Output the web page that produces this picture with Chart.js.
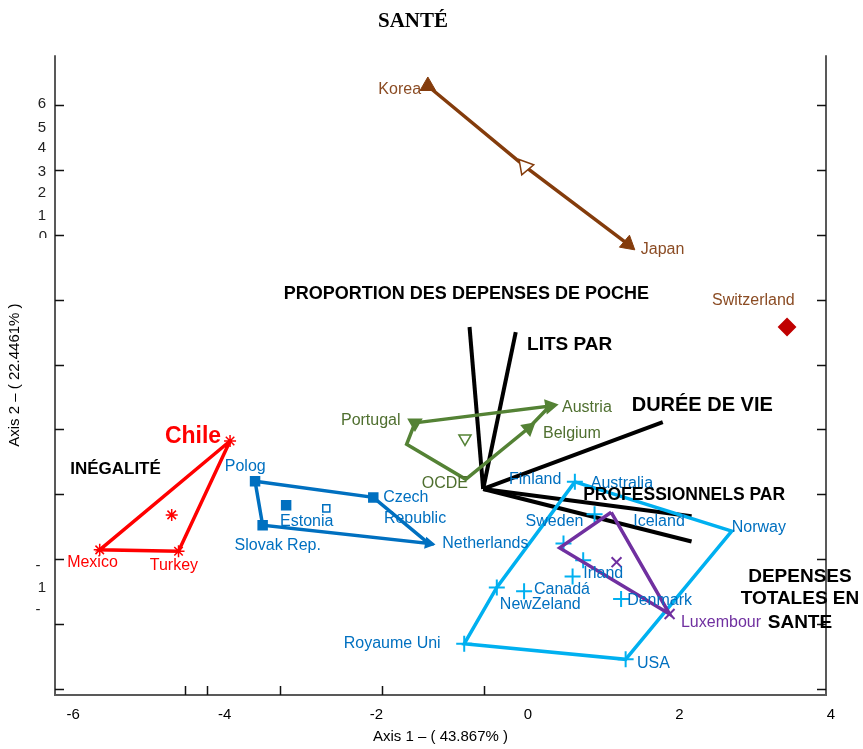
<!DOCTYPE html>
<html>
<head>
<meta charset="utf-8">
<script src="https://cdn.jsdelivr.net/npm/chart.js@4.4.0/dist/chart.umd.min.js"></script>
<style>
  html, body { margin: 0; padding: 0; background: #fff; }
  #wrap { width: 863px; height: 749px; }
</style>
</head>
<body>
<div id="wrap"><canvas id="biplot"></canvas></div>
<script>
// Axis ticks
const xTicks = [-6, -4, -2, 0, 2, 4];
const yTicks = [-3, -2, -1, 0, 1, 2, 3, 4, 5, 6];
const xMinorTicks = [-4.52, -4.23, -3.27, -1.93, -0.58];

// Korea -> Japan
const asiaX = [-1.32, -0.04, 1.32];
const asiaY = [6.30, 5.06, 3.86];

const swissX = [3.42];
const swissY = [2.58];

// green group: Portugal, Austria, Belgium, OCDE, corner
const greenX = [-1.49, 0.29, 0.01, -0.82, -1.60, -1.49];
const greenY = [1.10, 1.36, 1.02, 0.23, 0.77, 1.10];
const greenMarkX = [-1.49, 0.29, 0.01];
const greenMarkY = [1.10, 1.36, 1.02];
const greenMeanX = [-0.83];
const greenMeanY = [0.86];

// red group: Chile, Mexico, Turkey
const redX = [-3.93, -5.65, -4.61, -3.93];
const redY = [0.82, -0.86, -0.88, 0.82];
const redMeanX = [-4.70];
const redMeanY = [-0.32];

// blue group: Polog, Czech Rep., Netherlands, Slovak Rep.
const blueX = [-3.60, -2.04, -1.31, -3.50, -3.60];
const blueY = [0.20, -0.05, -0.76, -0.48, 0.20];
const blueMarkX = [-3.60, -2.04, -3.50, -3.19];
const blueMarkY = [0.20, -0.05, -0.48, -0.17];
const blueMeanX = [-2.66];
const blueMeanY = [-0.22];

// cyan group: Australia, Norway, USA, Royaume Uni, NewZeland corner
const cyanX = [0.62, 2.69, 1.29, -0.84, -0.41, 0.62];
const cyanY = [0.19, -0.57, -2.55, -2.31, -1.44, 0.19];
const cyanMarkX = [0.62, 1.29, -0.84, -0.41, 0.88, 0.47, 0.73, 0.59, -0.05, 1.23];
const cyanMarkY = [0.19, -2.55, -2.31, -1.44, -0.31, -0.76, -1.02, -1.27, -1.50, -1.62];

// purple group
const purpleX = [1.10, 1.87, 0.42, 1.10];
const purpleY = [-0.28, -1.85, -0.83, -0.28];
const purpleMarkX = [1.87, 1.17];
const purpleMarkY = [-1.85, -1.05];

// variable vectors
const vecOrigin = [-0.59, 0.08];
const vecEndX = [-0.77, -0.16, 1.78, 2.16, 2.16];
const vecEndY = [2.58, 2.50, 1.11, -0.34, -0.73];

const brown = '#843c0c', green = '#548235', red = '#ff0000',
      blue = '#0070c0', cyan = '#00b0f0', purple = '#7030a0';

// text annotations [text, x, y, colour, align]
const countryLabels = [
  ['Korea', -1.41, 6.25, '#8b4c24', 'right'],
  ['Japan', 1.49, 3.77, '#8b4c24', 'left'],
  ['Switzerland', 2.43, 2.99, '#8b4c24', 'left'],
  ['Portugal', -1.68, 1.13, '#4f6f2f', 'right'],
  ['Austria', 0.45, 1.33, '#4f6f2f', 'left'],
  ['Belgium', 0.20, 0.93, '#4f6f2f', 'left'],
  ['OCDE', -1.40, 0.17, '#4f6f2f', 'left'],
  ['Mexico', -6.08, -1.05, red, 'left'],
  ['Turkey', -4.99, -1.11, red, 'left'],
  ['Polog', -4.00, 0.42, blue, 'left'],
  ['Czech', -1.91, -0.05, blue, 'left'],
  ['Republic', -1.90, -0.37, blue, 'left'],
  ['Estonia', -3.27, -0.42, blue, 'left'],
  ['Slovak Rep.', -3.87, -0.80, blue, 'left'],
  ['Netherlands', -1.13, -0.76, blue, 'left'],
  ['Finland', -0.25, 0.22, blue, 'left'],
  ['Australia', 0.83, 0.17, blue, 'left'],
  ['Sweden', -0.03, -0.43, blue, 'left'],
  ['Iceland', 1.39, -0.42, blue, 'left'],
  ['Norway', 2.69, -0.52, blue, 'left'],
  ['Irland', 0.73, -1.22, blue, 'left'],
  ['Canadá', 0.08, -1.47, blue, 'left'],
  ['NewZeland', -0.37, -1.71, blue, 'left'],
  ['Denmark', 1.31, -1.65, blue, 'left'],
  ['Royaume Uni', -2.43, -2.31, blue, 'left'],
  ['USA', 1.44, -2.61, blue, 'left'],
  ['Luxembour', 2.02, -1.98, purple, 'left']
];

// bold variable names [text, x, y, size, align]
const varLabels = [
  ['PROPORTION DES DEPENSES DE POCHE', -3.22, 3.09, 18, 'left'],
  ['LITS PAR', -0.01, 2.31, 19, 'left'],
  ['DURÉE DE VIE', 1.37, 1.37, 20, 'left'],
  ['PROFESSIONNELS PAR', 0.73, -0.02, 17.5, 'left'],
  ['INÉGALITÉ', -6.04, 0.39, 17, 'left'],
  ['DEPENSES', 3.59, -1.28, 19, 'center'],
  ['TOTALES EN', 3.59, -1.62, 19, 'center'],
  ['SANTE', 3.59, -1.98, 19, 'center']
];

// stray axis numbers pasted on the left
const leftNumText = ['6', '5', '4', '3', '2', '1', '0', '-', '1', '-'];
const leftNumY = [6.03, 5.65, 5.34, 4.97, 4.65, 4.29, 3.97, -1.10, -1.44, -1.79];

function pts(xs, ys) {
  return xs.map((v, i) => ({ x: v, y: ys[i] }));
}

function polygon(xs, ys, colour) {
  return {
    data: pts(xs, ys), showLine: true, borderColor: colour,
    borderWidth: 3.5, pointRadius: 0, fill: false
  };
}

function markers(xs, ys, colour, style, extra) {
  return Object.assign({
    data: pts(xs, ys), showLine: false, pointStyle: style,
    pointRadius: 6, borderColor: colour, backgroundColor: colour,
    pointBorderWidth: 2
  }, extra || {});
}

const datasets = [
  markers(asiaX, asiaY, brown, 'triangle', {
    pointRadius: 9, rotation: [0, -40, 130],
    backgroundColor: [brown, '#fff', brown], pointBorderWidth: [1, 1.5, 1]
  }),
  polygon(asiaX, asiaY, brown),
  markers(swissX, swissY, '#c00000', 'rectRot', { pointRadius: 8 }),
  markers(greenMarkX, greenMarkY, green, 'triangle', { pointRadius: 7, rotation: [180, 80, 50] }),
  markers(greenMeanX, greenMeanY, green, 'triangle', { pointRadius: 7, rotation: 180, backgroundColor: '#fff', pointBorderWidth: 1.5 }),
  polygon(greenX, greenY, green),
  markers(redX.slice(0, 3).concat(redMeanX), redY.slice(0, 3).concat(redMeanY), red, 'star', { pointRadius: 6, pointBorderWidth: 1.5 }),
  polygon(redX, redY, red),
  markers(blueMarkX, blueMarkY, blue, 'rect', { pointRadius: 6 }),
  markers(blueMeanX, blueMeanY, blue, 'rect', { pointRadius: 5, backgroundColor: '#fff', pointBorderWidth: 1.5 }),
  markers([blueX[2]], [blueY[2]], blue, 'triangle', { pointRadius: 5, rotation: 100 }),
  polygon(blueX, blueY, blue),
  markers(purpleMarkX, purpleMarkY, purple, 'crossRot', { pointRadius: 7 }),
  polygon(purpleX, purpleY, purple),
  markers(cyanMarkX, cyanMarkY, cyan, 'cross', { pointRadius: 8 }),
  polygon(cyanX, cyanY, cyan)
];

vecEndX.forEach((ex, i) => {
  datasets.push({
    data: [{ x: vecOrigin[0], y: vecOrigin[1] }, { x: ex, y: vecEndY[i] }],
    showLine: true, borderColor: '#000', borderWidth: 4, pointRadius: 0
  });
});

const decor = {
  id: 'decor',
  afterDraw(chart) {
    const { ctx, chartArea: a } = chart;
    const xs = chart.scales.x, ys = chart.scales.y;
    ctx.save();
    // frame (no top edge)
    ctx.strokeStyle = '#595959';
    ctx.lineWidth = 2;
    ctx.beginPath();
    ctx.moveTo(a.left, a.top);
    ctx.lineTo(a.left, a.bottom);
    ctx.lineTo(a.right, a.bottom);
    ctx.lineTo(a.right, a.top);
    ctx.stroke();

    // inward tick marks
    ctx.strokeStyle = '#111';
    ctx.lineWidth = 1.5;
    ctx.beginPath();
    yTicks.forEach(v => {
      const py = Math.round(ys.getPixelForValue(v)) + 0.5;
      ctx.moveTo(a.left, py); ctx.lineTo(a.left + 9, py);
      ctx.moveTo(a.right, py); ctx.lineTo(a.right - 9, py);
    });
    xMinorTicks.forEach(v => {
      const px = Math.round(xs.getPixelForValue(v)) + 0.5;
      ctx.moveTo(px, a.bottom); ctx.lineTo(px, a.bottom - 9);
    });
    ctx.stroke();

    // stray numbers left of the axis
    ctx.fillStyle = '#222';
    ctx.font = "15px 'Liberation Sans', Arial, sans-serif";
    ctx.textAlign = 'center';
    ctx.textBaseline = 'middle';
    leftNumText.forEach((t, i) => {
      const py = ys.getPixelForValue(leftNumY[i]);
      if (t === '0') {
        ctx.save();
        ctx.beginPath();
        ctx.rect(0, py - 12, a.left - 2, 13);
        ctx.clip();
        ctx.fillText(t, 43, py);
        ctx.restore();
      } else {
        ctx.fillText(t, t === '-' ? 38 : 42, py);
      }
    });

    // country labels
    ctx.font = "16px 'Liberation Sans', Arial, sans-serif";
    countryLabels.forEach(([t, x, y, c, al]) => {
      ctx.fillStyle = c;
      ctx.textAlign = al;
      ctx.fillText(t, xs.getPixelForValue(x), ys.getPixelForValue(y));
    });

    ctx.fillStyle = red;
    ctx.textAlign = 'left';
    ctx.font = "bold 23px 'Liberation Sans', Arial, sans-serif";
    ctx.fillText('Chile', xs.getPixelForValue(-4.79), ys.getPixelForValue(0.88));

    // variable names
    ctx.fillStyle = '#000';
    varLabels.forEach(([t, x, y, s, al]) => {
      ctx.font = 'bold ' + s + "px 'Liberation Sans', Arial, sans-serif";
      ctx.textAlign = al;
      ctx.fillText(t, xs.getPixelForValue(x), ys.getPixelForValue(y));
    });
    ctx.restore();
  }
};

new Chart(document.getElementById('biplot'), {
  type: 'scatter',
  data: { datasets: datasets },
  options: {
    responsive: true,
    maintainAspectRatio: false,
    animation: false,
    layout: { padding: { left: 0, right: 37, top: 0, bottom: 0 } },
    plugins: {
      legend: { display: false },
      tooltip: { enabled: false },
      title: {
        display: true,
        text: 'SANTÉ',
        color: '#000',
        font: { family: "'Liberation Serif', 'Times New Roman', serif", size: 21, weight: 'bold' },
        padding: { top: 9, bottom: 21 }
      }
    },
    scales: {
      x: {
        type: 'linear',
        min: -6.24,
        max: 3.934,
        afterBuildTicks: s => { s.ticks = xTicks.map(v => ({ value: v })); },
        afterFit: s => { s.height = 54; },
        grid: { display: false, drawTicks: false },
        border: { display: false },
        ticks: {
          color: '#000',
          padding: 11,
          font: { family: "'Liberation Sans Narrow', 'Liberation Sans', Arial, sans-serif", size: 15 }
        },
        title: {
          display: true,
          text: 'Axis 1 – ( 43.867% )',
          color: '#000',
          font: { family: "'Liberation Sans Narrow', 'Liberation Sans', Arial, sans-serif", size: 15 },
          padding: { top: 2, bottom: 3 }
        }
      },
      y: {
        type: 'linear',
        min: -3.10,
        max: 6.775,
        afterFit: s => { s.width = 55; },
        grid: { display: false, drawTicks: false },
        border: { display: false },
        ticks: { display: false, stepSize: 1 },
        title: {
          display: true,
          text: 'Axis 2 – ( 22.4461% )',
          color: '#000',
          font: { family: "'Liberation Sans', Arial, sans-serif", size: 15 },
          padding: { top: 6, bottom: 0 }
        }
      }
    }
  },
  plugins: [decor]
});
</script>
</body>
</html>
